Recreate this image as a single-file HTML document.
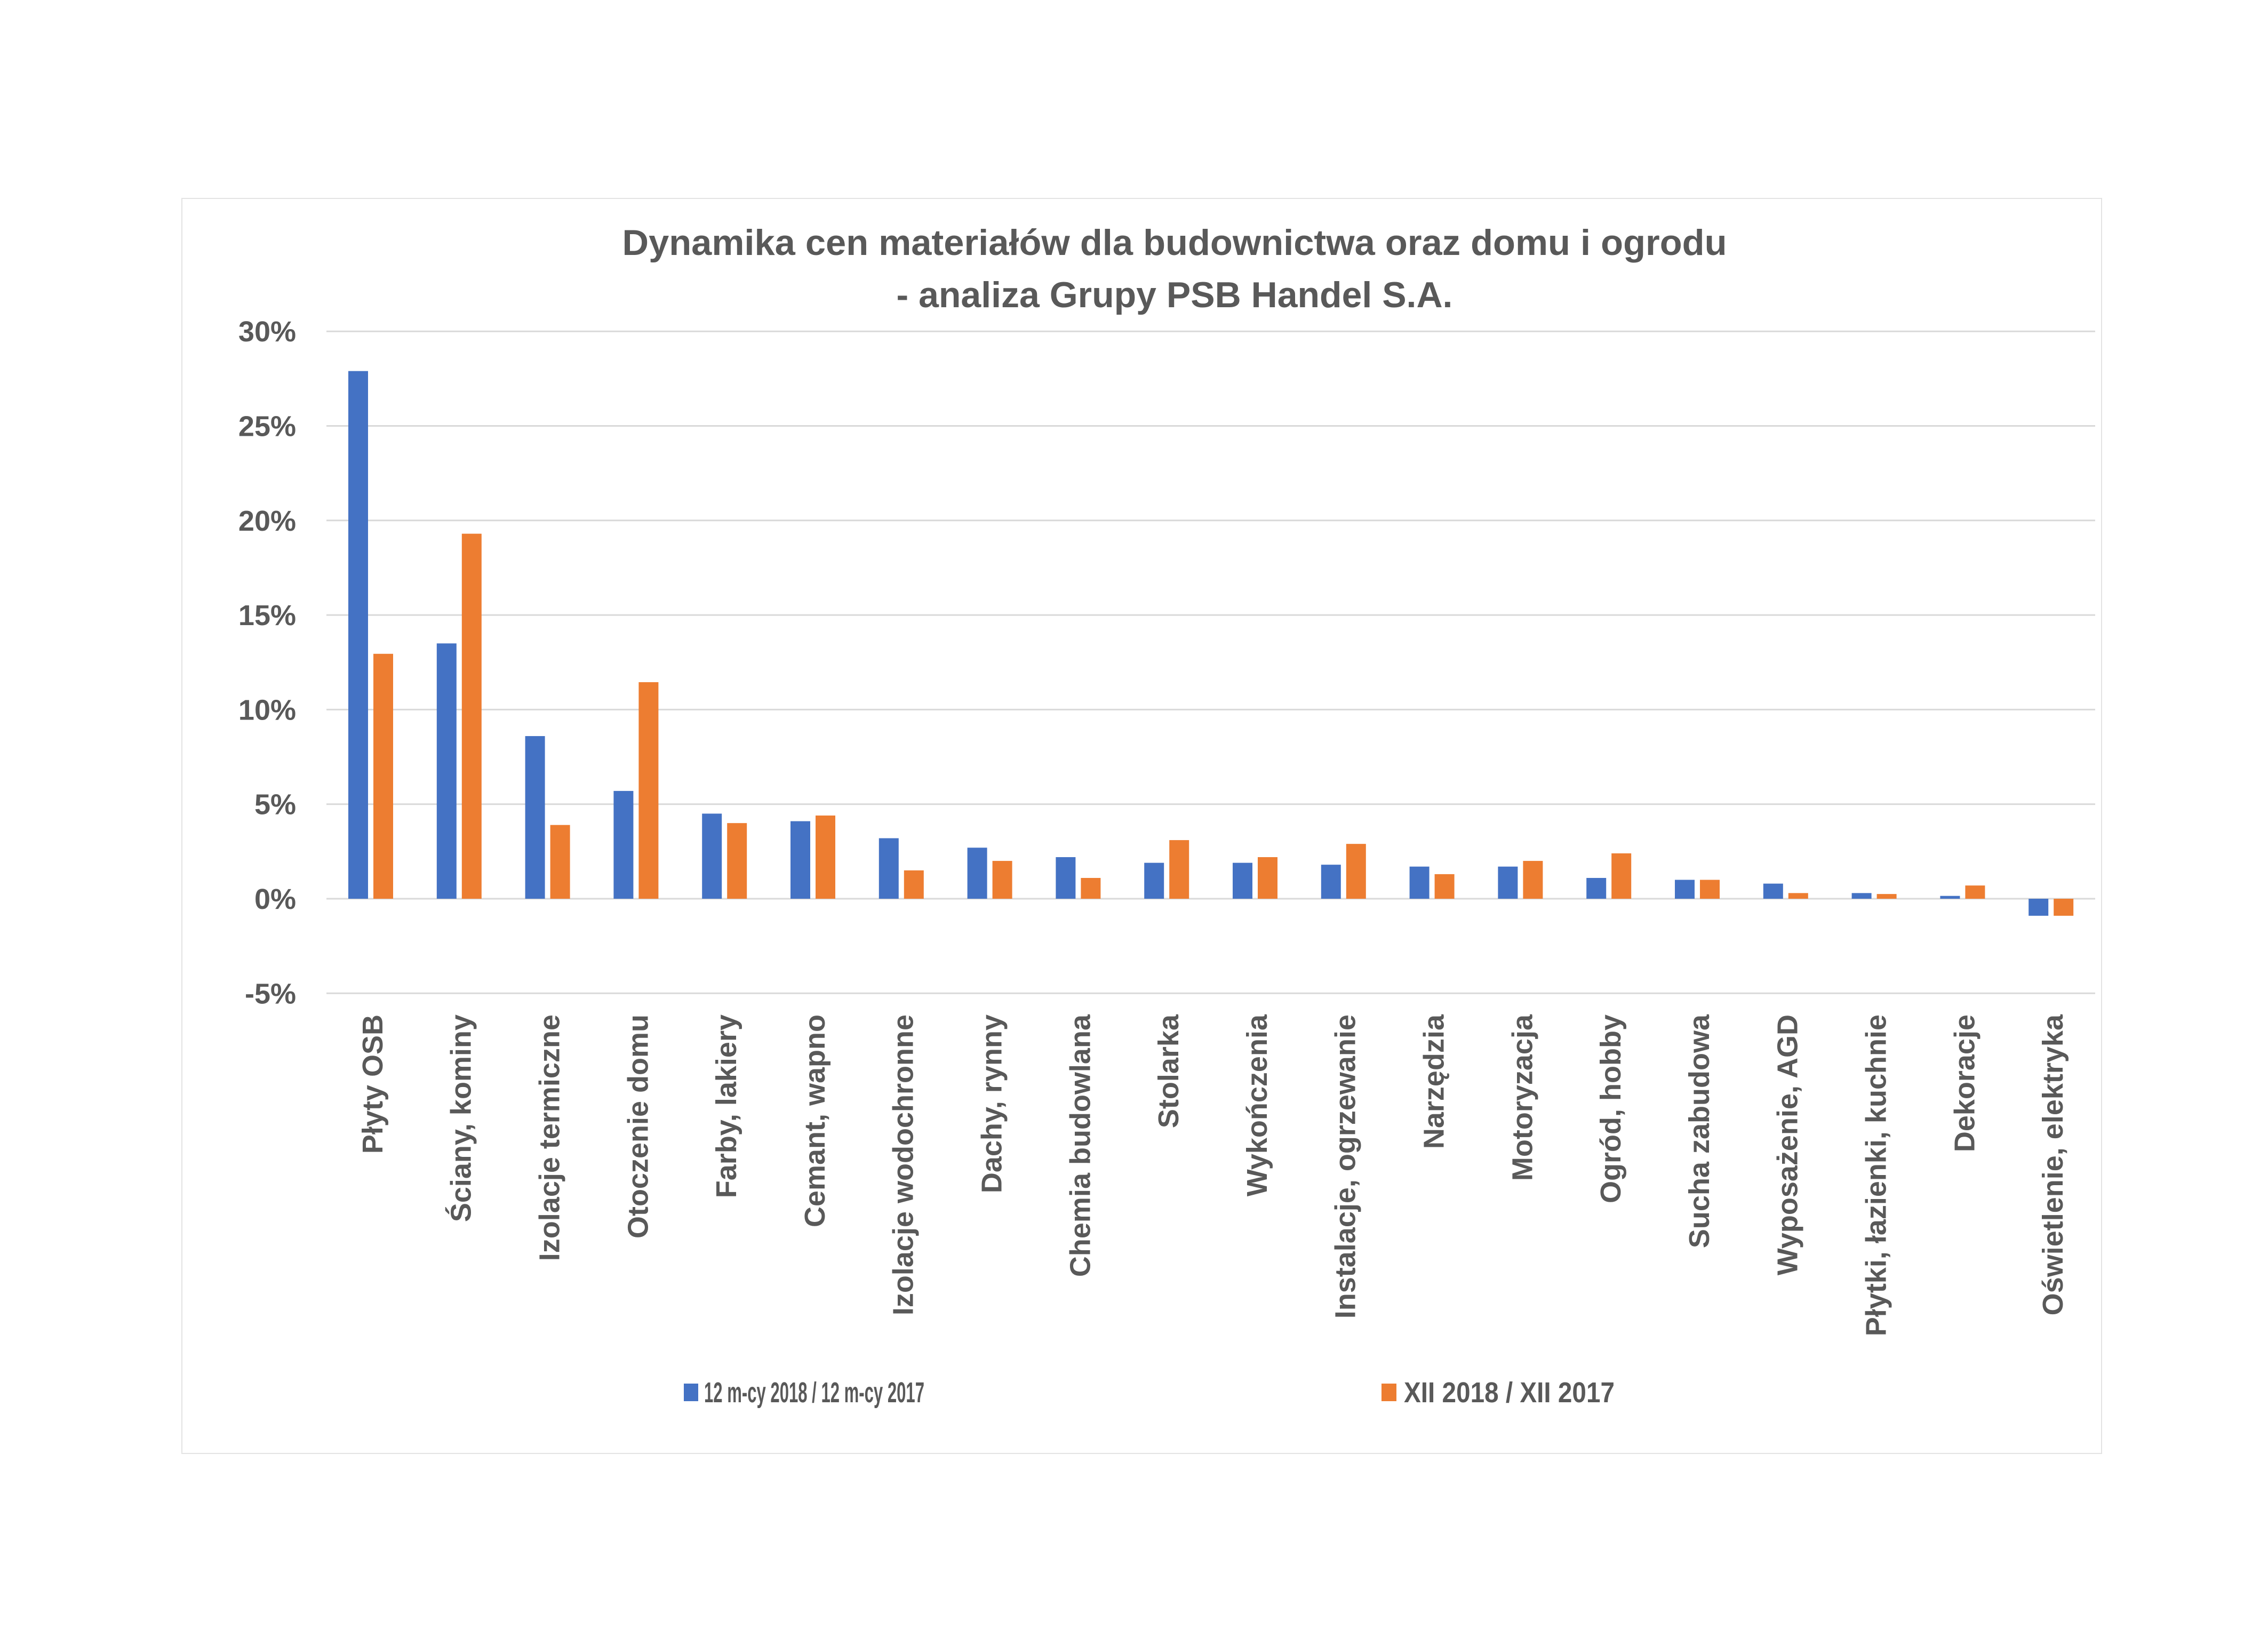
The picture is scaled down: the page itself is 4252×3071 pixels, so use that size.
<!DOCTYPE html>
<html><head><meta charset="utf-8"><style>
html,body{margin:0;padding:0;background:#fff;}
svg{display:block;font-family:"Liberation Sans",sans-serif;font-weight:bold;}
</style></head><body>
<svg id="chart" width="4252" height="3071" viewBox="0 0 4252 3071" xmlns="http://www.w3.org/2000/svg">
<rect x="341" y="372" width="3599" height="2353" fill="#fff" stroke="#e3e3e3" stroke-width="2"/>
<text x="2202" y="478" text-anchor="middle" font-size="68" fill="#595959" textLength="2071" lengthAdjust="spacingAndGlyphs">Dynamika cen materiałów dla budownictwa oraz domu i ogrodu</text>
<text x="2202" y="576" text-anchor="middle" font-size="68" fill="#595959">- analiza Grupy PSB Handel S.A.</text>
<g id="grid"></g>
<g id="yticks"></g>
<g id="bars"></g>
<g id="xlabels"></g>
<g>
<rect x="1282" y="2594" width="27" height="33" fill="#4472c4"/>
<text x="1320" y="2629" font-size="54" fill="#595959" textLength="413" lengthAdjust="spacingAndGlyphs">12 m-cy 2018 / 12 m-cy 2017</text>
<rect x="2590" y="2594" width="28" height="33" fill="#ed7d31"/>
<text x="2632" y="2629" font-size="54" fill="#595959" textLength="395" lengthAdjust="spacingAndGlyphs">XII 2018 / XII 2017</text>
</g>
</svg>
<script>
const categories = ["Płyty OSB","Ściany, kominy","Izolacje termiczne","Otoczenie domu","Farby, lakiery","Cemant, wapno","Izolacje wodochronne","Dachy, rynny","Chemia budowlana","Stolarka","Wykończenia","Instalacje, ogrzewanie","Narzędzia","Motoryzacja","Ogród, hobby","Sucha zabudowa","Wyposażenie, AGD","Płytki, łazienki, kuchnie","Dekoracje","Oświetlenie, elektryka"];
const series12m = [27.9,13.5,8.6,5.7,4.5,4.1,3.2,2.7,2.2,1.9,1.9,1.8,1.7,1.7,1.1,1.0,0.8,0.3,0.15,-0.9];
const seriesXII = [12.95,19.3,3.9,11.45,4.0,4.4,1.5,2.0,1.1,3.1,2.2,2.9,1.3,2.0,2.4,1.0,0.3,0.25,0.7,-0.9];
const yTicks = [-5,0,5,10,15,20,25,30];
const yTickLabels = ["-5%","0%","5%","10%","15%","20%","25%","30%"];

const NS="http://www.w3.org/2000/svg";
const X0=612, X1=3928, Y0=1685, PX=177.3/5;
const catW=(X1-X0)/categories.length;
const y=v=>Y0-v*PX;
const grid=document.getElementById('grid'), yt=document.getElementById('yticks'), bars=document.getElementById('bars'), xl=document.getElementById('xlabels');
function mk(t,a){const e=document.createElementNS(NS,t);for(const k in a)e.setAttribute(k,a[k]);return e;}
yTicks.forEach((v,i)=>{
  const l=mk('line',{x1:X0,x2:X1,y1:y(v),y2:y(v),stroke:'#d9d9d9','stroke-width':3});
  
  
  grid.appendChild(l);
  const t=mk('text',{x:555,y:y(v)+19,'text-anchor':'end','font-size':54,fill:'#595959'});
  
  
  t.textContent=yTickLabels[i];
  yt.appendChild(t);
});
const bw=37;
categories.forEach((c,i)=>{
  const cx=X0+i*catW;
  [[series12m[i],'#4472c4',41],[seriesXII[i],'#ed7d31',88]].forEach(([v,col,off],s)=>{
    const top=Math.min(y(v),Y0), h=Math.abs(y(v)-Y0);
    const r=mk('rect',{x:cx+off,y:top,width:bw,height:h,fill:col});
    
    
    bars.appendChild(r);
  });
  const lx=cx+catW/2+22, ly=1902;
  const t=mk('text',{x:lx,y:ly,'text-anchor':'end','font-size':54,fill:'#595959',transform:`rotate(-90 ${lx} ${ly})`});
  
  
  t.textContent=c;
  xl.appendChild(t);
});
</script>
</body></html>
